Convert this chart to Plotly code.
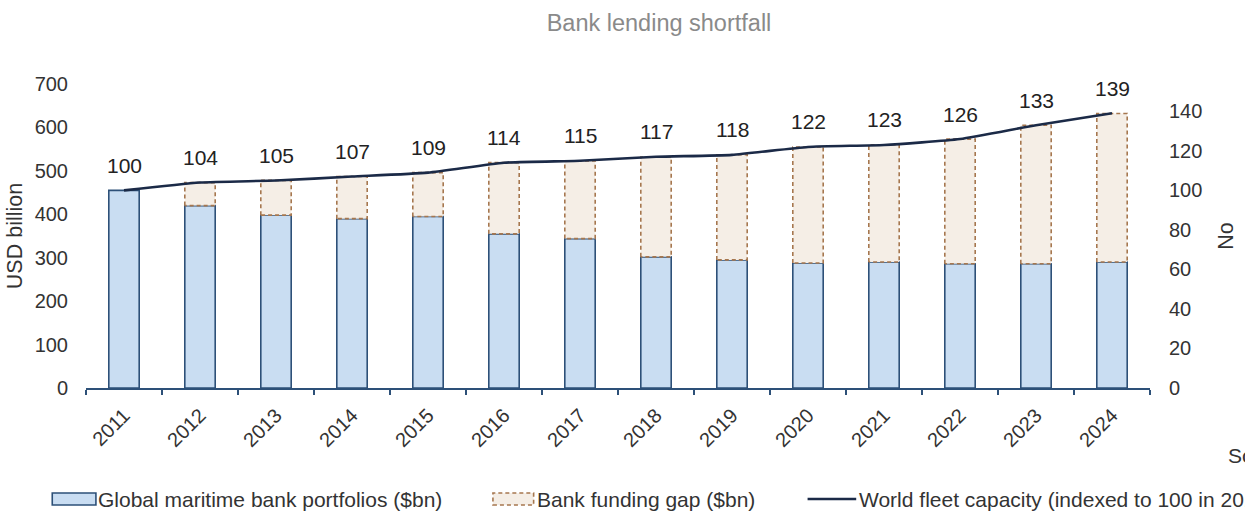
import plotly.graph_objects as go

# ---- data -------------------------------------------------------------
years = ["2011", "2012", "2013", "2014", "2015", "2016", "2017",
         "2018", "2019", "2020", "2021", "2022", "2023", "2024"]
portfolios = [455, 420, 398, 390, 395, 355, 344, 302, 295, 288, 290, 286, 286, 290]
funding_gap = [0, 53, 80, 97, 101, 164, 179, 230, 242, 267, 270, 287, 319, 342]
fleet_index = [100, 104, 105, 107, 109, 114, 115, 117, 118, 122, 123, 126, 133, 139]

# ---- styling ----------------------------------------------------------
FONT = "Liberation Sans, Arial, sans-serif"
TXT = "#333333"
NAVY = "#1B2A47"
BAR_EDGE = "#2D5078"
BAR_FILL = "#C9DDF2"
GAP_FILL = "#F5EEE6"
GAP_EDGE = "#A6774F"
BAR_W = 0.4

W, H = 1245, 512
ML, MR, MT, MB = 86, 87, 84, 124
PW, PH = W - ML - MR, H - MT - MB

# right axis scaled so the index line sits on the stacked bar tops
LEFT_MAX = 700
RIGHT_MAX = LEFT_MAX / (portfolios[0] / fleet_index[0])


def px_x(px):
    return (px - ML) / PW


def px_y(py):
    return (MT + PH - py) / PH


x = list(range(len(years)))
tops = [p + g for p, g in zip(portfolios, funding_gap)]

fig = go.Figure()

fig.add_trace(go.Bar(
    x=x, y=portfolios, width=BAR_W,
    marker=dict(color=BAR_FILL, line=dict(color=BAR_EDGE, width=1.6)),
    name="Global maritime bank portfolios ($bn)", showlegend=False,
))
fig.add_trace(go.Bar(
    x=x, y=funding_gap, width=BAR_W, base=portfolios,
    marker=dict(color=GAP_FILL, line=dict(width=0)),
    name="Bank funding gap ($bn)", showlegend=False,
))

# dashed outlines around each funding-gap segment
ox, oy = [], []
for xi, b, t, g in zip(x, portfolios, tops, funding_gap):
    if g <= 0:
        continue
    l, r = xi - BAR_W / 2, xi + BAR_W / 2
    ox += [l, l, r, r, l, None]
    oy += [b, t, t, b, b, None]
fig.add_trace(go.Scatter(
    x=ox, y=oy, mode="lines", hoverinfo="skip", showlegend=False,
    line=dict(color=GAP_EDGE, width=1.6, dash="4px,3px"),
))

fig.add_trace(go.Scatter(
    x=x, y=fleet_index, yaxis="y2", mode="lines",
    line=dict(color=NAVY, width=2.6, shape="spline", smoothing=0.5),
    name="World fleet capacity (indexed to 100 in 2011)", showlegend=False,
))

annotations = []
for xi, v in zip(x, fleet_index):
    annotations.append(dict(
        x=xi, y=v, xref="x", yref="y2", text=str(v), showarrow=False,
        yshift=25, font=dict(size=21, color="#222222", family=FONT),
    ))

# legend drawn along the bottom
LEG_Y = 499
LEG_FONT = dict(size=21, color=TXT, family=FONT)
shapes = [
    dict(type="rect", xref="paper", yref="paper",
         x0=px_x(52), x1=px_x(96), y0=px_y(505), y1=px_y(493),
         fillcolor=BAR_FILL, line=dict(color=BAR_EDGE, width=1.6)),
    dict(type="rect", xref="paper", yref="paper",
         x0=px_x(496), x1=px_x(537), y0=px_y(505), y1=px_y(493),
         fillcolor=GAP_FILL, line=dict(color=GAP_EDGE, width=1.6, dash="4px,3px")),
    dict(type="line", xref="paper", yref="paper",
         x0=px_x(813), x1=px_x(862), y0=px_y(LEG_Y), y1=px_y(LEG_Y),
         line=dict(color=NAVY, width=2.6)),
]
for px, label in [(96, "Global maritime bank portfolios ($bn)"),
                  (538, "Bank funding gap ($bn)"),
                  (863, "World fleet capacity (indexed to 100 in 2011)")]:
    annotations.append(dict(
        x=px_x(px), y=px_y(LEG_Y), xref="paper", yref="paper", text=label,
        showarrow=False, xanchor="left", yanchor="middle", font=LEG_FONT,
    ))
annotations.append(dict(
    x=px_x(1235), y=px_y(455), xref="paper", yref="paper", text="Source:",
    showarrow=False, xanchor="left", yanchor="middle", font=LEG_FONT,
))

fig.update_layout(
    width=W, height=H,
    margin=dict(l=ML, r=MR, t=MT, b=MB),
    paper_bgcolor="white", plot_bgcolor="white",
    font=dict(family=FONT, color=TXT, size=20),
    barmode="overlay",
    title=dict(text="Bank lending shortfall", x=659 / W, xanchor="center",
               y=1 - 23 / H, yanchor="middle", yref="container",
               font=dict(size=23.5, color="#8A8A8A", family=FONT)),
    xaxis=dict(
        range=[-0.5, len(years) - 0.5],
        tickmode="array", tickvals=x, ticktext=years, tickangle=-45,
        ticks="", ticklabelstandoff=6, showgrid=False, zeroline=False,
        showline=True, linecolor=BAR_EDGE, linewidth=1.6,
        tickfont=dict(size=20, color=TXT),
        minor=dict(tickmode="array",
                   tickvals=[i - 0.5 for i in range(len(years) + 1)],
                   ticks="outside", ticklen=5, tickcolor=BAR_EDGE, tickwidth=1.6,
                   showgrid=False),
    ),
    yaxis=dict(
        range=[0, LEFT_MAX], dtick=100, showgrid=False, zeroline=False,
        showline=False, ticks="", ticklabelstandoff=17,
        tickfont=dict(size=20, color=TXT),
        title=dict(text="USD billion", standoff=6, font=dict(size=21.5, color=TXT)),
    ),
    yaxis2=dict(
        overlaying="y", side="right", range=[0, RIGHT_MAX],
        tickmode="array", tickvals=list(range(0, 141, 20)),
        showgrid=False, zeroline=False, showline=False, ticks="",
        ticklabelstandoff=18, tickfont=dict(size=20, color=TXT),
        title=dict(text="No", standoff=16, font=dict(size=21.5, color=TXT)),
    ),
    shapes=shapes,
    annotations=annotations,
)

fig.write_html("out.html")
